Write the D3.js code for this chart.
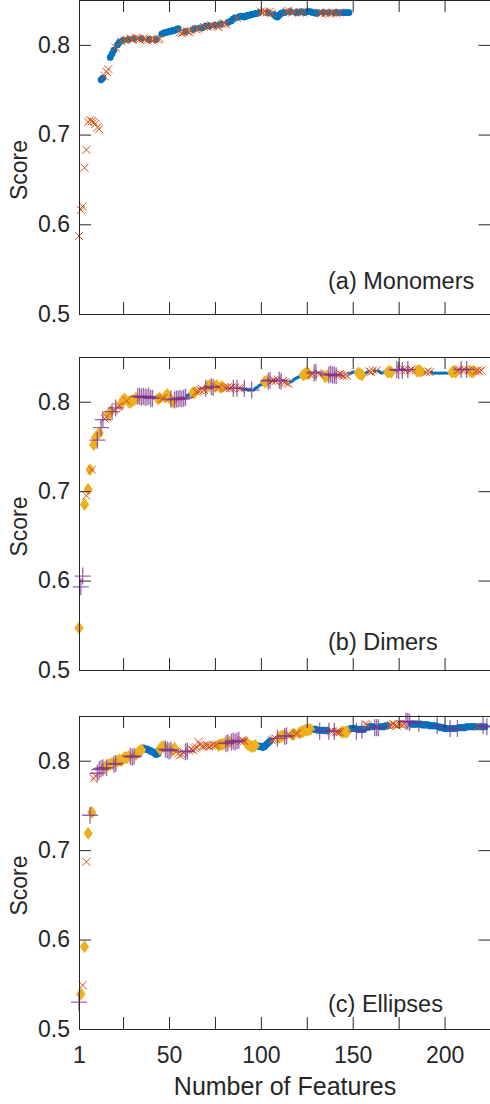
<!DOCTYPE html>
<html>
<head>
<meta charset="utf-8">
<script src="https://cdn.jsdelivr.net/npm/d3@7"></script>
<style>
  body { margin: 0; background: #fff; }
  text { font-family: "Liberation Sans", Arial, sans-serif; fill: #262626; }
</style>
</head>
<body>
<svg id="chart" width="490" height="1104"></svg>
<script>
// tick values shared by all three panels
const xTicks = [1, 25, 50, 75, 100, 125, 150, 175, 200, 225];
const xTickLabels = ["1", "", "50", "", "100", "", "150", "", "200", ""];
const yTicks = [0.5, 0.6, 0.7, 0.8];
const yTickLabels = ["0.5", "0.6", "0.7", "0.8"];

// score for feature count n = 1, 2, 3, ... ; type letter says which marker the point gets
// o = blue dot, x = orange cross, d = yellow diamond, p = purple plus
const monomerScores = [
  .587, .616, .620, .663, .683, .714, .716, .715, .714, .712,
  .708, .706, .761, .763, .765, .770, .773, .786, .790, .794,
  .797, .800, .803, .804, .805, .805, .806, .806, .807, .806,
  .807, .808, .807, .806, .807, .807, .806, .805, .806, .806,
  .805, .806, .806, .806, .807, .812, .813, .814, .814, .815,
  .815, .816, .816, .817, .818, .814, .813, .814, .815, .815,
  .814, .816, .817, .818, .817, .818, .819, .819, .820, .821,
  .820, .821, .822, .821, .822, .821, .820, .823, .823, .824,
  .823, .825, .826, .827, .829, .830, .830, .831, .832, .832,
  .831, .832, .833, .833, .834, .834, .835, .835, .836, .837,
  .836, .837, .836, .836, .837, .835, .834, .832, .831, .833,
  .835, .836, .836, .837, .838, .837, .836, .837, .836, .836,
  .836, .837, .836, .836, .837, .837, .837, .836, .836, .835,
  .836, .836, .835, .836, .835, .836, .836, .835, .836, .836,
  .835, .836, .836, .836, .836, .836, .836, .836
];
const monomerTypes =
  "xxxxxxxxxx" + "xxooxxxooo" + "xooxoxxoxx" + "oxxxoxxxox" + "xxoxxooooo" +
  "oooooxxxox" + "xxooxxooxo" + "xoxxoxxoxx" + "xoooooxooo" + "ooooooooox" +
  "xxxoxxoooo" + "oooxxoxxoo" + "xoxooooooo" + "oxxoxxoxxo" + "xoxooooo";

const dimerScores = [
  .547, .593, .605, .685, .695, .702, .724, .724, .752, .760,
  .757, .765, .771, .780, .781, .783, .786, .788, .789, .791,
  .793, .794, .795, .798, .802, .803, .801, .800, .799, .801,
  .802, .804, .806, .806, .805, .806, .805, .805, .806, .804,
  .804, .804, .805, .803, .804, .803, .804, .806, .808, .805,
  .803, .800, .802, .803, .803, .804, .803, .804, .805, .807,
  .808, .809, .810, .810, .811, .812, .813, .814, .813, .815,
  .817, .818, .817, .816, .817, .818, .816, .816, .817, .816,
  .815, .816, .815, .816, .815, .816, .815, .815, .815, .814,
  .815, .814, .813, .813, .813, .813, .815, .816, .818, .819,
  .820, .822, .823, .823, .824, .823, .824, .823, .825, .824,
  .823, .823, .822, .821, .820, .822, .823, .825, .826, .827,
  .828, .829, .830, .831, .832, .831, .830, .831, .832, .833,
  .832, .831, .830, .829, .828, .829, .830, .831, .830, .830,
  .829, .830, .831, .830, .829, .830, .829, .831, .832, .833,
  .833, .832, .832, .831, .830, .831, .832, .833, .834, .833,
  .835, .834, .835, .834, .833, .832, .833, .834, .833, .834,
  .833, .834, .835, .836, .835, .836, .835, .836, .835, .836,
  .835, .836, .835, .834, .834, .835, .834, .834, .833, .833,
  .834, .833, .833, .832, .832, .832, .832, .832, .832, .832,
  .832, .832, .833, .833, .834, .833, .835, .836, .836, .835,
  .836, .836, .835, .834, .833, .834, .834, .835, .834, .835
];
const dimerTypes =
  "dppdxddxdd" + "pdppxxddpx" + "pxxdddxddd" + "ddpppppppp" + "pooddxxddd" +
  "pdpppppppo" + "ooddxxxxxp" + "ddppddxddx" + "xxxxpxpxxo" + "pooopooooo" +
  "oddppxxxxp" + "pxxxxooooo" + "ooddddxxpp" + "xxooddpppp" + "pxxxxxxooo" +
  "oodddoooxx" + "xoxooooodd" + "dooppxpxxp" + "xxoodddoox" + "xxoooooooo" +
  "ooodddxxpx" + "xpxdddxxxx";

const ellipseScores = [
  .530, .539, .549, .592, .687, .719, .739, .742, .780, .783,
  .786, .790, .791, .792, .793, .792, .795, .796, .797, .796,
  .797, .799, .801, .800, .802, .804, .803, .805, .805, .804,
  .805, .807, .809, .811, .812, .814, .813, .813, .812, .811,
  .810, .809, .807, .808, .813, .815, .816, .813, .812, .811,
  .812, .812, .814, .810, .808, .806, .807, .809, .810, .811,
  .811, .813, .812, .814, .815, .821, .818, .816, .816, .817,
  .817, .816, .817, .818, .817, .818, .817, .818, .818, .819,
  .819, .820, .821, .821, .822, .821, .822, .823, .822, .823,
  .822, .820, .818, .817, .816, .816, .817, .817, .816, .816,
  .815, .816, .818, .820, .822, .823, .824, .825, .825, .826,
  .827, .828, .827, .828, .829, .828, .829, .830, .830, .831,
  .831, .832, .833, .834, .834, .835, .835, .835, .835, .835,
  .834, .833, .834, .834, .834, .834, .833, .833, .833, .833,
  .832, .832, .832, .832, .832, .832, .832, .835, .836, .836,
  .836, .833, .835, .835, .834, .835, .841, .840, .838, .838,
  .838, .837, .837, .837, .838, .838, .838, .839, .839, .839,
  .840, .841, .840, .839, .841, .841, .840, .841, .844, .844,
  .843, .841, .841, .841, .841, .842, .841, .840, .840, .840,
  .840, .839, .839, .839, .839, .839, .838, .837, .837, .836,
  .836, .836, .836, .836, .836, .836, .836, .837, .837, .837,
  .837, .838, .838, .838, .838, .838, .838, .838, .838, .838,
  .839, .838, .838
];
const ellipseTypes =
  "pdxdxdpdxx" + "ppppdpdddp" + "pdddddddpp" + "pddddooooo" + "oooodddppp" +
  "pddxxxxxpp" + "xxxxxxxxxx" + "xxxxxxdddd" + "ppdpppppxx" + "xddddddooo" +
  "oooooxxxpd" + "ddppxxddxx" + "dddddddooo" + "opoooopxxp" + "xxxddddooo" +
  "opoopoxxoo" + "opppooooox" + "xxxxxxxxpp" + "poooopoooo" + "ooooopoooo" +
  "oopooopooo" + "oooooooxoo" + "pop";

const panelTitles = ["(a) Monomers", "(b) Dimers", "(c) Ellipses"];

const svg = d3.select("#chart");
const ink = "#262626";
const font = "'Liberation Sans', Arial, sans-serif";

const panels = [
  { scores: monomerScores, types: monomerTypes, top: 0, bottom: 314, dot: 3.4, titleY: 289 },
  { scores: dimerScores, types: dimerTypes, top: 357, bottom: 670, dot: 1.7, titleY: 650 },
  { scores: ellipseScores, types: ellipseTypes, top: 716, bottom: 1029, dot: 3.6, titleY: 1012 }
];

const x = d3.scaleLinear().domain([1, 225]).range([79, 490.5]);

const markerPaths = {
  x: "M-4,-4L4,4M-4,4L4,-4",
  d: "M0,-6.5L4.7,0L0,6.5L-4.7,0Z",
  p: "M-8,0H8M0,-8.5V8.5"
};

panels.forEach((pn, k) => {
  const y = d3.scaleLinear().domain([0.5, 0.85]).range([pn.bottom, pn.top]);
  const g = svg.append("g");

  const pts = pn.scores.map((s, i) => ({ n: i + 1, s: s, t: pn.types[i] }));

  // markers one kind at a time: dots underneath, plus signs on top
  ["o", "d", "x", "p"].forEach(t => {
    const sel = pts.filter(p => p.t === t);
    if (t === "o") {
      g.selectAll(null).data(sel).enter().append("circle")
        .attr("cx", p => x(p.n))
        .attr("cy", p => y(p.s))
        .attr("r", pn.dot)
        .attr("fill", "#0072BD");
    } else {
      g.selectAll(null).data(sel).enter().append("path")
        .attr("transform", p => `translate(${x(p.n)},${y(p.s)})`)
        .attr("d", markerPaths[t])
        .attr("fill", t === "d" ? "#EDB120" : "none")
        .attr("stroke", t === "x" ? "#D95319" : t === "p" ? "#7E2F8E" : "none")
        .attr("stroke-width", t === "p" ? 1.3 : 1)
        .attr("stroke-opacity", t === "p" ? 0.75 : 1);
    }
  });

  // box with inward ticks on all four sides
  const bottomAxis = d3.axisBottom(x).tickValues(xTicks).tickSizeInner(-12).tickSizeOuter(0)
    .tickPadding(18)
    .tickFormat((d, i) => k === 2 ? xTickLabels[i] : "");
  const topAxis = d3.axisTop(x).tickValues(xTicks).tickSizeInner(-12).tickSizeOuter(0).tickFormat("");
  const leftAxis = d3.axisLeft(y).tickValues(yTicks).tickSizeInner(-12).tickSizeOuter(0)
    .tickPadding(9).tickFormat((d, i) => yTickLabels[i]);
  const rightAxis = d3.axisRight(y).tickValues(yTicks).tickSizeInner(-12).tickSizeOuter(0).tickFormat("");

  const axes = [
    g.append("g").attr("transform", `translate(0,${pn.bottom})`).call(bottomAxis),
    g.append("g").attr("transform", `translate(0,${pn.top})`).call(topAxis),
    g.append("g").attr("transform", `translate(${x.range()[0]},0)`).call(leftAxis),
    g.append("g").attr("transform", `translate(${x.range()[1]},0)`).call(rightAxis)
  ];
  axes.forEach(a => {
    a.selectAll("path, line").attr("stroke", ink);
    a.selectAll("text").attr("fill", ink).style("font-size", "23px").style("font-family", font);
  });

  g.append("text")
    .attr("transform", `translate(27,${(pn.top + pn.bottom) / 2 + 13}) rotate(-90)`)
    .attr("text-anchor", "middle")
    .style("font-size", "23px")
    .text("Score");

  g.append("text")
    .attr("x", 328)
    .attr("y", pn.titleY)
    .style("font-size", "23.5px")
    .text(panelTitles[k]);
});

svg.append("text")
  .attr("x", 285)
  .attr("y", 1095)
  .attr("text-anchor", "middle")
  .style("font-size", "25px")
  .text("Number of Features");
</script>
</body>
</html>
